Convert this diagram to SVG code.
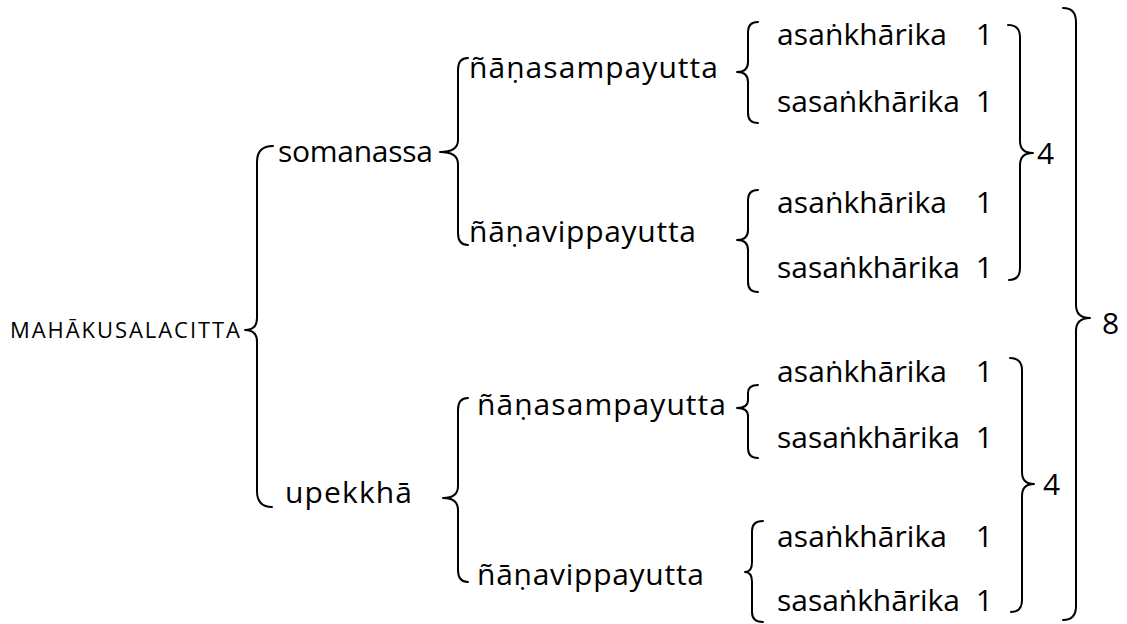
<svg xmlns="http://www.w3.org/2000/svg" width="1127" height="624" viewBox="0 0 1127 624">
<style>
text{font-family:"Open Sans","Noto Sans","DejaVu Sans",sans-serif;font-size:30px;fill:#000}
.cap{font-size:22px}
.br{fill:none;stroke:#000;stroke-width:2;stroke-linecap:round;stroke-linejoin:round}
</style>
<rect width="1127" height="624" fill="#fff"/>
<g id="connectors">
<path class="br" d="M273,146 Q257,146 257,162 L257,318 Q257,330 245,330 Q257,330 257,342 L257,491 Q257,507 272,507"/>
<path class="br" d="M468,58 Q458,58 458,70 L458,140 Q458,152 440,152 Q458,152 458,164 L458,233 Q458,245 468,245"/>
<path class="br" d="M468,398 Q458,398 458,410 L458,486 Q458,498 443,498 Q458,498 458,510 L458,570 Q458,582 468,582"/>
<path class="br" d="M758,22 Q748,22 748,32 L748,62 Q748,72 737,72 Q748,72 748,82 L748,113 Q748,123 758,123"/>
<path class="br" d="M758,190 Q748,190 748,200 L748,230 Q748,240 737,240 Q748,240 748,250 L748,282 Q748,292 758,292"/>
<path class="br" d="M758,385 Q748,385 748,393 L748,400 Q748,408 737,408 Q748,408 748,416 L748,448 Q748,458 758,458"/>
<path class="br" d="M763,521 Q752,521 752,531 L752,562 Q752,572 745,572 Q752,572 752,582 L752,612 Q752,622 763,622"/>
<path class="br" d="M1008,25 Q1020,25 1020,37 L1020,141 Q1020,153 1033,153 Q1020,153 1020,165 L1020,268 Q1020,280 1009,280"/>
<path class="br" d="M1010,358 Q1022,358 1022,370 L1022,472 Q1022,484 1034,484 Q1022,484 1022,496 L1022,600 Q1022,612 1011,612"/>
<path class="br" d="M1063,8 Q1076,8 1076,22 L1076,305 Q1076,318 1090,318 Q1076,318 1076,331 L1076,606 Q1076,620 1063,620"/>
</g>
<g id="root"><text class="cap" x="10" y="338" textLength="230">MAHĀKUSALACITTA</text></g>
<g id="somanassa"><text x="278" y="162" textLength="155">somanassa</text></g>
<g id="upekkha"><text x="285" y="503" textLength="127">upekkhā</text></g>
<g id="s-sampayutta"><text x="469" y="78" textLength="249">ñāṇasampayutta</text></g>
<g id="s-vippayutta"><text x="469" y="242" textLength="227">ñāṇavippayutta</text></g>
<g id="u-sampayutta"><text x="477" y="415" textLength="249">ñāṇasampayutta</text></g>
<g id="u-vippayutta"><text x="477" y="585" textLength="227">ñāṇavippayutta</text></g>
<g id="g1">
<text x="777" y="45" textLength="170">asaṅkhārika</text><text x="993" y="45" text-anchor="end">1</text>
<text x="777" y="112" textLength="183">sasaṅkhārika</text><text x="993" y="112" text-anchor="end">1</text>
</g>
<g id="g2">
<text x="777" y="213" textLength="170">asaṅkhārika</text><text x="993" y="213" text-anchor="end">1</text>
<text x="777" y="278" textLength="183">sasaṅkhārika</text><text x="993" y="278" text-anchor="end">1</text>
</g>
<g id="g3">
<text x="777" y="382" textLength="170">asaṅkhārika</text><text x="993" y="382" text-anchor="end">1</text>
<text x="777" y="448" textLength="183">sasaṅkhārika</text><text x="993" y="448" text-anchor="end">1</text>
</g>
<g id="g4">
<text x="777" y="547" textLength="170">asaṅkhārika</text><text x="993" y="547" text-anchor="end">1</text>
<text x="777" y="611" textLength="183">sasaṅkhārika</text><text x="993" y="611" text-anchor="end">1</text>
</g>
<g id="total-somanassa"><text x="1037" y="164">4</text></g>
<g id="total-upekkha"><text x="1043" y="495">4</text></g>
<g id="total"><text x="1102" y="334">8</text></g>
</svg>
